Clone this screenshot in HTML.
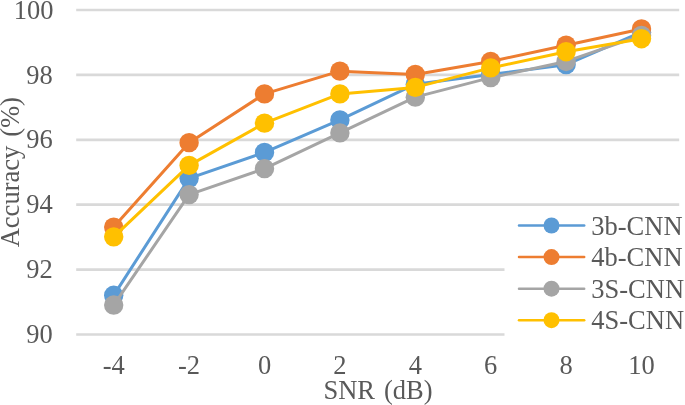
<!DOCTYPE html>
<html><head><meta charset="utf-8"><title>chart</title>
<style>
html,body{margin:0;padding:0;background:#fff;}
body{width:685px;height:405px;overflow:hidden;}
svg{display:block;}
text{font-family:"Liberation Serif",serif;font-size:26.5px;fill:#595959;}
</style></head><body>
<svg width="685" height="405" viewBox="0 0 685 405">
<rect width="685" height="405" fill="#fff"/>
<line x1="76.2" x2="679.2" y1="10.00" y2="10.00" stroke="#D9D9D9" stroke-width="2.7"/>
<line x1="76.2" x2="679.2" y1="74.90" y2="74.90" stroke="#D9D9D9" stroke-width="2.7"/>
<line x1="76.2" x2="679.2" y1="139.80" y2="139.80" stroke="#D9D9D9" stroke-width="2.7"/>
<line x1="76.2" x2="679.2" y1="204.70" y2="204.70" stroke="#D9D9D9" stroke-width="2.7"/>
<line x1="76.2" x2="679.2" y1="269.60" y2="269.60" stroke="#D9D9D9" stroke-width="2.7"/>
<line x1="76.2" x2="679.2" y1="334.50" y2="334.50" stroke="#D9D9D9" stroke-width="2.7"/>
<polyline points="113.70,295.32 189.10,178.37 264.50,152.38 339.90,119.90 415.30,84.17 490.70,74.42 566.10,64.67 641.50,32.19" fill="none" stroke="#5B9BD5" stroke-width="3" stroke-linejoin="round" stroke-linecap="round"/>
<circle cx="113.70" cy="295.32" r="9.7" fill="#5B9BD5"/>
<circle cx="189.10" cy="178.37" r="9.7" fill="#5B9BD5"/>
<circle cx="264.50" cy="152.38" r="9.7" fill="#5B9BD5"/>
<circle cx="339.90" cy="119.90" r="9.7" fill="#5B9BD5"/>
<circle cx="415.30" cy="84.17" r="9.7" fill="#5B9BD5"/>
<circle cx="490.70" cy="74.42" r="9.7" fill="#5B9BD5"/>
<circle cx="566.10" cy="64.67" r="9.7" fill="#5B9BD5"/>
<circle cx="641.50" cy="32.19" r="9.7" fill="#5B9BD5"/>
<polyline points="113.70,227.10 189.10,142.64 264.50,93.91 339.90,71.17 415.30,74.42 490.70,61.43 566.10,45.18 641.50,28.94" fill="none" stroke="#ED7D31" stroke-width="3" stroke-linejoin="round" stroke-linecap="round"/>
<circle cx="113.70" cy="227.10" r="9.7" fill="#ED7D31"/>
<circle cx="189.10" cy="142.64" r="9.7" fill="#ED7D31"/>
<circle cx="264.50" cy="93.91" r="9.7" fill="#ED7D31"/>
<circle cx="339.90" cy="71.17" r="9.7" fill="#ED7D31"/>
<circle cx="415.30" cy="74.42" r="9.7" fill="#ED7D31"/>
<circle cx="490.70" cy="61.43" r="9.7" fill="#ED7D31"/>
<circle cx="566.10" cy="45.18" r="9.7" fill="#ED7D31"/>
<circle cx="641.50" cy="28.94" r="9.7" fill="#ED7D31"/>
<polyline points="113.70,305.06 189.10,194.61 264.50,168.63 339.90,132.89 415.30,97.16 490.70,77.67 566.10,61.43 641.50,35.44" fill="none" stroke="#A5A5A5" stroke-width="3" stroke-linejoin="round" stroke-linecap="round"/>
<circle cx="113.70" cy="305.06" r="9.7" fill="#A5A5A5"/>
<circle cx="189.10" cy="194.61" r="9.7" fill="#A5A5A5"/>
<circle cx="264.50" cy="168.63" r="9.7" fill="#A5A5A5"/>
<circle cx="339.90" cy="132.89" r="9.7" fill="#A5A5A5"/>
<circle cx="415.30" cy="97.16" r="9.7" fill="#A5A5A5"/>
<circle cx="490.70" cy="77.67" r="9.7" fill="#A5A5A5"/>
<circle cx="566.10" cy="61.43" r="9.7" fill="#A5A5A5"/>
<circle cx="641.50" cy="35.44" r="9.7" fill="#A5A5A5"/>
<polyline points="113.70,236.85 189.10,165.38 264.50,123.15 339.90,93.91 415.30,87.41 490.70,67.92 566.10,51.68 641.50,38.69" fill="none" stroke="#FFC000" stroke-width="3" stroke-linejoin="round" stroke-linecap="round"/>
<circle cx="113.70" cy="236.85" r="9.7" fill="#FFC000"/>
<circle cx="189.10" cy="165.38" r="9.7" fill="#FFC000"/>
<circle cx="264.50" cy="123.15" r="9.7" fill="#FFC000"/>
<circle cx="339.90" cy="93.91" r="9.7" fill="#FFC000"/>
<circle cx="415.30" cy="87.41" r="9.7" fill="#FFC000"/>
<circle cx="490.70" cy="67.92" r="9.7" fill="#FFC000"/>
<circle cx="566.10" cy="51.68" r="9.7" fill="#FFC000"/>
<circle cx="641.50" cy="38.69" r="9.7" fill="#FFC000"/>
<rect x="504.5" y="207" width="181" height="136" fill="#fff"/>
<line x1="519" x2="584.2" y1="225.50" y2="225.50" stroke="#5B9BD5" stroke-width="2.5" stroke-linecap="round"/>
<circle cx="551.5" cy="225.50" r="8" fill="#5B9BD5"/>
<text x="591.3" y="234.70">3b-CNN</text>
<line x1="519" x2="584.2" y1="257.07" y2="257.07" stroke="#ED7D31" stroke-width="2.5" stroke-linecap="round"/>
<circle cx="551.5" cy="257.07" r="8" fill="#ED7D31"/>
<text x="591.3" y="266.27">4b-CNN</text>
<line x1="519" x2="584.2" y1="288.64" y2="288.64" stroke="#A5A5A5" stroke-width="2.5" stroke-linecap="round"/>
<circle cx="551.5" cy="288.64" r="8" fill="#A5A5A5"/>
<text x="591.3" y="297.84">3S-CNN</text>
<line x1="519" x2="584.2" y1="320.21" y2="320.21" stroke="#FFC000" stroke-width="2.5" stroke-linecap="round"/>
<circle cx="551.5" cy="320.21" r="8" fill="#FFC000"/>
<text x="591.3" y="329.41">4S-CNN</text>
<text x="53.5" y="18.60" text-anchor="end">100</text>
<text x="52.7" y="83.50" text-anchor="end">98</text>
<text x="52.7" y="148.40" text-anchor="end">96</text>
<text x="52.7" y="213.30" text-anchor="end">94</text>
<text x="52.7" y="278.20" text-anchor="end">92</text>
<text x="52.7" y="343.10" text-anchor="end">90</text>
<text x="113.70" y="374.4" text-anchor="middle">-4</text>
<text x="189.10" y="374.4" text-anchor="middle">-2</text>
<text x="264.50" y="374.4" text-anchor="middle">0</text>
<text x="339.90" y="374.4" text-anchor="middle">2</text>
<text x="415.30" y="374.4" text-anchor="middle">4</text>
<text x="490.70" y="374.4" text-anchor="middle">6</text>
<text x="566.10" y="374.4" text-anchor="middle">8</text>
<text x="641.50" y="374.4" text-anchor="middle">10</text>
<text x="378" y="399.4" text-anchor="middle" style="word-spacing:2.3px">SNR (dB)</text>
<text transform="translate(18.6,172.2) rotate(-90)" text-anchor="middle" style="word-spacing:2.3px">Accuracy (%)</text>
</svg></body></html>
